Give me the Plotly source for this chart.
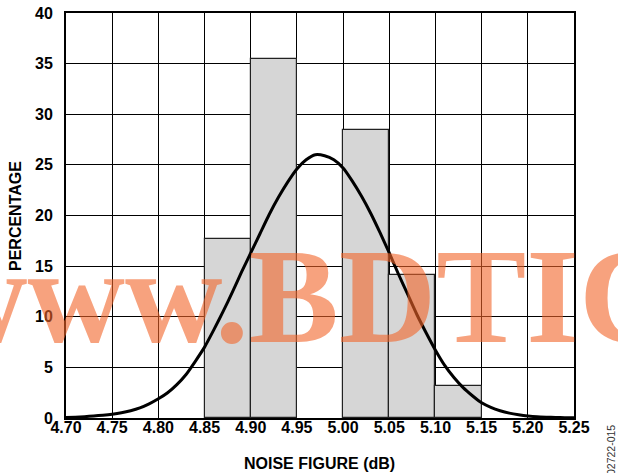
import plotly.graph_objects as go

# Histogram bins (centre of each 0.05 dB bin) and percentages
bin_centers = [4.875, 4.925, 5.025, 5.075, 5.125]
percentages = [17.7, 35.5, 28.4, 14.1, 3.2]
bin_width = 0.05

# Fitted distribution curve, every 0.01 dB
curve_x = [4.70, 4.71, 4.72, 4.73, 4.74, 4.75, 4.76, 4.77, 4.78, 4.79,
           4.80, 4.81, 4.82, 4.83, 4.84, 4.85, 4.86, 4.87, 4.88, 4.89,
           4.90, 4.91, 4.92, 4.93, 4.94, 4.95, 4.96, 4.97, 4.98, 4.99,
           5.00, 5.01, 5.02, 5.03, 5.04, 5.05, 5.06, 5.07, 5.08, 5.09,
           5.10, 5.11, 5.12, 5.13, 5.14, 5.15, 5.16, 5.17, 5.18, 5.19,
           5.20, 5.21, 5.22, 5.23, 5.24, 5.25]
curve_y = [0.05, 0.08, 0.13, 0.20, 0.28, 0.38, 0.52, 0.72, 1.0, 1.4,
           1.9, 2.5, 3.3, 4.3, 5.6, 7.0, 8.7, 10.5, 12.4, 14.4,
           16.3, 18.2, 20.1, 21.8, 23.3, 24.6, 25.5, 26.0, 25.9, 25.5,
           24.7, 23.4, 21.9, 20.2, 18.3, 16.3, 14.2, 12.2, 10.2, 8.4,
           6.7, 5.2, 4.0, 3.0, 2.2, 1.5, 1.05, 0.72, 0.48, 0.32,
           0.20, 0.12, 0.08, 0.05, 0.03, 0.02]

x_ticks = [4.70, 4.75, 4.80, 4.85, 4.90, 4.95, 5.00, 5.05, 5.10, 5.15, 5.20, 5.25]
y_ticks = [0, 5, 10, 15, 20, 25, 30, 35, 40]

FONT = "Liberation Sans, Arial, sans-serif"

fig = go.Figure()
fig.add_trace(go.Bar(
    x=bin_centers, y=percentages, width=bin_width,
    marker=dict(color="#d6d6d6", line=dict(color="#222222", width=1.2)),
    showlegend=False,
))
fig.add_trace(go.Scatter(
    x=curve_x, y=curve_y, mode="lines",
    line=dict(color="black", width=3, shape="spline", smoothing=0.6),
    showlegend=False,
))

L, R, T, B = 66, 44, 13, 55
W, H = 618, 473
pw, ph = W - L - R, H - T - B

def px_x(p):
    return (p - L) / pw

def px_y(p):
    return (H - B - p) / ph

fig.update_layout(
    width=W, height=H,
    margin=dict(l=L, r=R, t=T, b=B, autoexpand=False),
    paper_bgcolor="white", plot_bgcolor="white",
    font=dict(family=FONT, color="black"),
    bargap=0,
    xaxis=dict(
        range=[4.70, 5.25], tickvals=x_ticks,
        ticktext=[f"<b>{v:.2f}</b>" for v in x_ticks],
        tickfont=dict(size=16, family=FONT, color="black"),
        showgrid=True, gridcolor="black", gridwidth=1.2,
        showline=True, linecolor="black", linewidth=2, mirror=True,
        zeroline=False, ticks="", ticklabelstandoff=-6, automargin=False,
    ),
    yaxis=dict(
        range=[0, 40], tickvals=y_ticks,
        ticktext=[f"<b>{v}</b>" for v in y_ticks],
        tickfont=dict(size=16, family=FONT, color="black"),
        showgrid=True, gridcolor="black", gridwidth=1.2,
        showline=True, linecolor="black", linewidth=2, mirror=True,
        zeroline=False, ticks="", ticklabelstandoff=8, automargin=False,
    ),
    annotations=[
        dict(text="<b>NOISE FIGURE (dB)</b>", xref="paper", yref="paper",
             x=px_x(319), y=px_y(463), xanchor="center", yanchor="middle",
             showarrow=False, font=dict(size=16, family=FONT, color="black")),
        dict(text="<b>PERCENTAGE</b>", xref="paper", yref="paper",
             x=px_x(15), y=px_y(216), xanchor="center", yanchor="middle",
             textangle=-90, showarrow=False,
             font=dict(size=16, family=FONT, color="black")),
        dict(text="02722-015", xref="paper", yref="paper",
             x=px_x(611), y=px_y(450), xanchor="center", yanchor="middle",
             textangle=-90, showarrow=False,
             font=dict(size=10.5, family=FONT, color="#333333")),
        dict(text="<b>www.BDTIC.com</b>", xref="paper", yref="paper",
             x=px_x(-72), y=px_y(296), xanchor="left", yanchor="middle",
             showarrow=False,
             font=dict(size=135, family="Liberation Serif, Times New Roman, serif",
                       color="rgba(242,100,40,0.6)")),
    ],
)

fig.write_html("out.html")
